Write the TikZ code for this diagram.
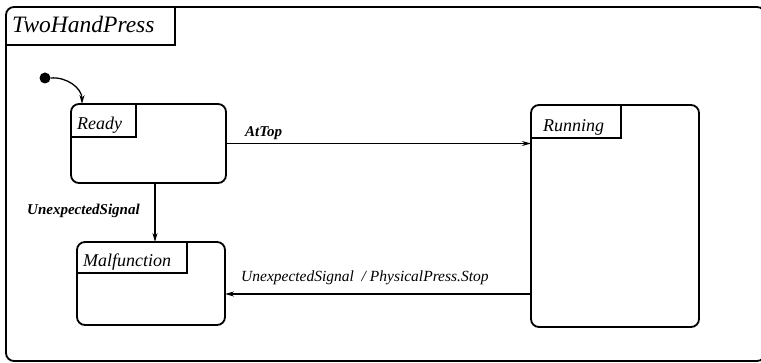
\documentclass[tikz,border=0pt]{standalone}
\usepackage{fontspec}
\setmainfont{Liberation Serif}
\usetikzlibrary{arrows.meta}

\tikzset{
  state/.style={draw, rectangle, rounded corners=8pt, line width=1.8pt,
    anchor=north west, inner sep=0pt, outer sep=0pt},
  namebox/.style={rectangle, anchor=north west, inner sep=0pt, outer sep=0pt},
  statename/.style={anchor=base west, inner sep=0pt, font=\fontsize{18}{20}\selectfont\itshape},
  trans/.style={line width=1.3pt, -{Stealth[length=9pt,width=5pt]}},
  translabel/.style={anchor=base west, inner sep=0pt, font=\fontsize{15.5}{17}\selectfont\itshape}
}

\begin{document}
\begin{tikzpicture}[x=1pt, y=-1pt]
        \useasboundingbox (0,0) rectangle (761,363);

        % outer chart
        \node[state, minimum width=759pt, minimum height=354pt] (frame) at (6,7) {};
        \node[namebox, minimum width=169pt, minimum height=38pt] (titlebox) at (frame.north west) {};
        \draw[line width=1.5pt] (titlebox.north east) |- (titlebox.south west);
        \node[anchor=base west, inner sep=0pt, font=\fontsize{23.5}{27}\selectfont\itshape] (title) at (12,33) {TwoHandPress};

        % states
        \node[state, minimum width=155pt, minimum height=79pt] (ready) at (71,104) {};
        \node[state, minimum width=168pt, minimum height=222pt] (running) at (531,105) {};
        \node[state, minimum width=148pt, minimum height=83pt] (malf) at (77,242) {};

        \node[namebox, minimum width=65pt, minimum height=33pt] (readybox) at (ready.north west) {};
        \node[namebox, minimum width=90pt, minimum height=33pt] (runningbox) at (running.north west) {};
        \node[namebox, minimum width=110pt, minimum height=31pt] (malfbox) at (malf.north west) {};
        \draw[line width=1.5pt] (readybox.north east) |- (readybox.south west);
        \draw[line width=1.5pt] (runningbox.north east) |- (runningbox.south west);
        \draw[line width=1.5pt] (malfbox.north east) |- (malfbox.south west);

        \node[statename] (readyname) at (77,130) {Ready};
        \node[statename] (runningname) at (543,132) {Running};
        \node[statename] (malfname) at (83,267) {Malfunction};

        % default entry
        \node[circle, fill, inner sep=0pt, minimum size=11pt] (init) at (45,78) {};
        \draw[trans] (init.east) to[out=5, in=90] ([xshift=11pt]ready.north west);

        % transitions
        \coordinate (r1) at ([xshift=6.5pt]ready.south);
        \coordinate (m1) at ([yshift=-10.5pt]malf.east);
        \draw[trans] (ready.east) -- (ready.east -| running.west);
        \draw[trans] (r1) -- (r1 |- malf.north);
        \draw[trans] (m1 -| running.west) -- (m1);

        \node[translabel, font=\fontsize{15}{17}\selectfont\itshape\bfseries] (attop) at (245,137) {AtTop};
        \node[translabel, font=\fontsize{15}{17}\selectfont\itshape\bfseries] (unexp) at (27,215) {UnexpectedSignal};
        \node[translabel] (unexpstop) at (241,282) {UnexpectedSignal~~/ PhysicalPress.Stop};
    \end{tikzpicture}
\end{document}
